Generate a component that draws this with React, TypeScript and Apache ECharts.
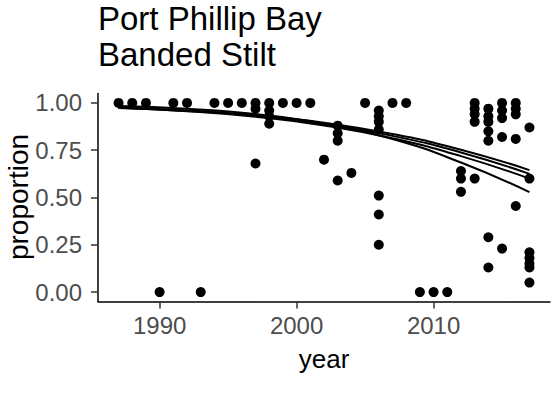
import React, { useEffect, useRef } from "react";
import * as echarts from "echarts";

const years: number[] = [
  1987, 1988, 1989, 1990, 1991, 1992, 1993, 1994, 1995, 1996,
  1997, 1997, 1997,
  1998, 1998, 1998, 1998,
  1999, 2000, 2001, 2002,
  2003, 2003, 2003, 2003,
  2004, 2005,
  2006, 2006, 2006, 2006, 2006, 2006, 2006,
  2007, 2008, 2009, 2010, 2011,
  2012, 2012, 2012,
  2013, 2013, 2013, 2013, 2013,
  2014, 2014, 2014, 2014, 2014, 2014, 2014,
  2015, 2015, 2015, 2015, 2015,
  2016, 2016, 2016, 2016, 2016,
  2017, 2017, 2017, 2017, 2017, 2017, 2017,
];
const proportions: number[] = [
  1.0, 1.0, 1.0, 0.0, 1.0, 1.0, 0.0, 1.0, 1.0, 1.0,
  1.0, 0.97, 0.68,
  1.0, 0.96, 0.93, 0.89,
  1.0, 1.0, 1.0, 0.70,
  0.88, 0.84, 0.80, 0.59,
  0.63, 1.0,
  0.96, 0.93, 0.90, 0.86, 0.51, 0.41, 0.25,
  1.0, 1.0, 0.0, 0.0, 0.0,
  0.64, 0.60, 0.53,
  1.0, 0.97, 0.94, 0.90, 0.60,
  0.97, 0.93, 0.90, 0.85, 0.80, 0.29, 0.13,
  1.0, 0.96, 0.92, 0.82, 0.23,
  1.0, 0.97, 0.94, 0.81, 0.455,
  0.87, 0.60, 0.21, 0.18, 0.15, 0.13, 0.05,
];

const fitYears: number[] = [1987, 1992, 1997, 2002, 2007, 2012, 2017];
const fit1: number[] = [0.976, 0.960, 0.935, 0.896, 0.836, 0.753, 0.645];
const fit2: number[] = [0.975, 0.958, 0.932, 0.889, 0.826, 0.738, 0.625];
const fit3: number[] = [0.973, 0.956, 0.927, 0.881, 0.813, 0.719, 0.600];
const fit4: number[] = [0.984, 0.969, 0.941, 0.891, 0.809, 0.685, 0.528];

const xTicks: number[] = [1990, 2000, 2010];
const yTicks: number[] = [0, 0.25, 0.5, 0.75, 1];

const titleLines: string[] = ["Port Phillip Bay", "Banded Stilt"];
const xTitle = "year";
const yTitle = "proportion";

export default function App() {
  const ref = useRef<HTMLDivElement>(null);
  useEffect(() => {
    document.body.style.margin = "0";
    if (!ref.current) return;
    const chart = echarts.init(ref.current, undefined, { renderer: "svg" });
    const font = "'Liberation Sans', Arial, sans-serif";
    const fits = [fit1, fit2, fit3, fit4];
    chart.setOption({
      animation: false,
      backgroundColor: "#ffffff",
      title: {
        text: titleLines.join("\n"),
        left: 93,
        top: -5,
        textStyle: {
          fontFamily: font,
          fontSize: 33,
          fontWeight: "normal",
          color: "#000000",
          lineHeight: 36,
        },
      },
      graphic: [
        {
          type: "text",
          x: 18,
          y: 197,
          rotation: Math.PI / 2,
          style: {
            text: yTitle,
            fontFamily: font,
            fontSize: 28,
            fill: "#000000",
            align: "center",
            verticalAlign: "middle",
          },
        },
      ],
      grid: {
        left: 98,
        right: 6,
        top: 93.5,
        bottom: 92.5,
        containLabel: false,
        outerBoundsMode: "none",
      },
      xAxis: {
        type: "value",
        min: 1985.5,
        max: 2018.5,
        name: xTitle,
        nameLocation: "middle",
        nameGap: 44,
        nameTextStyle: { fontFamily: font, fontSize: 26, color: "#000000" },
        axisLine: { show: true, onZero: false, lineStyle: { color: "#000000", width: 1.5 } },
        axisTick: { show: true, customValues: xTicks, length: 7, lineStyle: { color: "#333333", width: 1.5 } },
        axisLabel: {
          customValues: xTicks,
          formatter: (v: number) => String(v),
          fontFamily: font,
          fontSize: 24,
          color: "#4D4D4D",
          margin: 12,
        },
        splitLine: { show: false },
      },
      yAxis: {
        type: "value",
        min: -0.05,
        max: 1.05,
        axisLine: { show: true, onZero: false, lineStyle: { color: "#000000", width: 1.5 } },
        axisTick: { show: true, customValues: yTicks, length: 7, lineStyle: { color: "#333333", width: 1.5 } },
        axisLabel: {
          customValues: yTicks,
          formatter: (v: number) => v.toFixed(2),
          fontFamily: font,
          fontSize: 24,
          color: "#4D4D4D",
          margin: 16,
        },
        splitLine: { show: false },
      },
      series: [
        {
          type: "scatter",
          symbol: "circle",
          symbolSize: 10,
          itemStyle: { color: "#000000", opacity: 1 },
          data: years.map((y, i) => [y, proportions[i]]),
          z: 2,
        },
        ...fits.map((f) => ({
          type: "line",
          smooth: true,
          showSymbol: false,
          symbol: "none",
          lineStyle: { color: "#000000", width: 2 },
          data: fitYears.map((y, i) => [y, f[i]]),
          z: 3,
        })),
      ],
    });
    return () => chart.dispose();
  }, []);
  return <div ref={ref} style={{ width: 556, height: 394 }} />;
}
